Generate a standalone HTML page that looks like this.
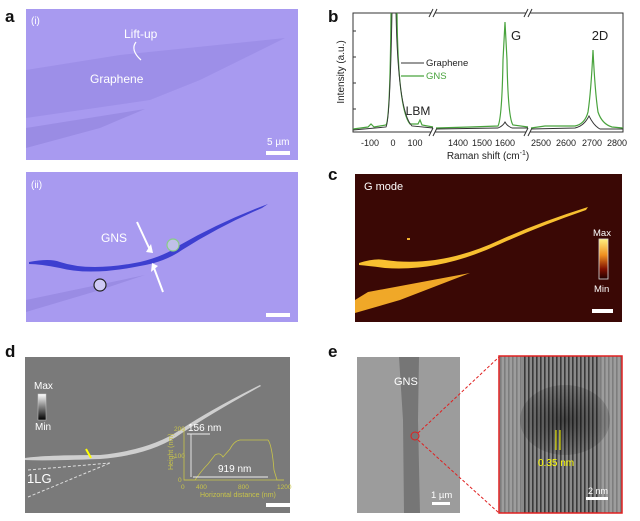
<!DOCTYPE html>
<html><head><meta charset="utf-8"><style>
body{margin:0;background:#fff;}
svg{display:block;font-family:"Liberation Sans",Arial,sans-serif;}
</style></head><body>
<svg width="640" height="521" viewBox="0 0 640 521" xmlns="http://www.w3.org/2000/svg">
<defs>
<linearGradient id="cb" x1="0" y1="0" x2="0" y2="1"><stop offset="0" stop-color="#fff080"/><stop offset="0.4" stop-color="#f09020"/><stop offset="0.75" stop-color="#801000"/><stop offset="1" stop-color="#200000"/></linearGradient>
<linearGradient id="gb" x1="0" y1="0" x2="0" y2="1"><stop offset="0" stop-color="#fff"/><stop offset="1" stop-color="#000"/></linearGradient>
<pattern id="lat" width="4" height="10" patternUnits="userSpaceOnUse"><rect width="4" height="10" fill="#8a8a8a"/><rect width="1.6" height="10" fill="#3a3a3a"/></pattern>
<radialGradient id="hr" cx="0.5" cy="0.5" r="0.7"><stop offset="0" stop-color="#000" stop-opacity="0.5"/><stop offset="1" stop-color="#000" stop-opacity="0"/></radialGradient>
</defs>
<g font-weight="bold" font-size="17" fill="#111">
<text x="5" y="22">a</text><text x="328" y="22">b</text><text x="328" y="180">c</text><text x="5" y="357">d</text><text x="328" y="357">e</text>
</g>
<!-- a(i) -->
<rect x="26" y="9" width="272" height="151" fill="#a89af0"/>
<path d="M26 70 L120 55 L285 38 L200 80 L150 100 L26 118Z" fill="#9d8fe8"/>
<path d="M26 128 L145 109 L100 128 L26 148Z" fill="#9a8ce4"/>
<g fill="#fff" font-size="12"><text x="31" y="24" font-size="10">(i)</text><text x="124" y="38">Lift-up</text><text x="90" y="83">Graphene</text><text x="267" y="145" font-size="10">5 µm</text></g>
<path d="M141 60 Q130 50 136 42" stroke="#fff" fill="none" stroke-width="1.2"/>
<rect x="266" y="151" width="24" height="4" fill="#fff"/>
<!-- a(ii) -->
<rect x="26" y="172" width="272" height="150" fill="#a89af0"/>
<path d="M26 300 L145 275 L100 290 L26 312Z" fill="#9a8ce4"/>
<path d="M29 262 Q50 258 60 262 Q90 272 140 262 Q165 256 180 245 Q220 222 268 204 L262 208 Q220 226 182 250 Q165 262 140 266 Q90 276 60 268 Q40 264 29 264Z" fill="#3d3fd0"/>
<circle cx="173" cy="245" r="6" fill="#c0c0e8" stroke="#8c8" stroke-width="1.2"/>
<circle cx="100" cy="285" r="6" fill="#cfcaf5" stroke="#222" stroke-width="1.2"/>
<g stroke="#fff" stroke-width="2"><line x1="137" y1="222" x2="150" y2="250"/><line x1="163" y1="292" x2="154" y2="268"/></g>
<path d="M146 252 L151 244 L153 253Z" fill="#fff"/><path d="M152 263 L151 272 L158 266Z" fill="#fff"/>
<g fill="#fff" font-size="12"><text x="31" y="188" font-size="10">(ii)</text><text x="101" y="242">GNS</text></g>
<rect x="266" y="313" width="24" height="4" fill="#fff"/>
<!-- b -->
<g stroke="#333" stroke-width="1" fill="none">
<rect x="353" y="13" width="270" height="119"/>
<line x1="353" y1="31" x2="356" y2="31"/><line x1="353" y1="57" x2="356" y2="57"/><line x1="353" y1="83" x2="356" y2="83"/><line x1="353" y1="109" x2="356" y2="109"/>
</g>
<g stroke="#fff" stroke-width="4"><line x1="433" y1="10" x2="433" y2="16"/><line x1="528" y1="10" x2="528" y2="16"/><line x1="433" y1="129" x2="433" y2="135"/><line x1="528" y1="129" x2="528" y2="135"/></g>
<g stroke="#333" stroke-width="1"><path d="M429 17 L433 9 M433 17 L437 9 M524 17 L528 9 M528 17 L532 9 M429 136 L433 128 M433 136 L437 128 M524 136 L528 128 M528 136 L532 128"/></g>
<path d="M353 129 L368 127 L371 124 L374 127 L386 125 Q390 120 391 13 M397 13 Q398 110 410 124 L418 124 L420 120 L422 125 L433 127 M436 128 L470 127 L498 126 Q502 118 503 60 L505 22 L507 60 Q508 118 513 125 L528 127 M531 128 L545 126 L575 126 Q585 124 588 112 Q591 92 593 50 Q595 92 598 112 Q602 124 612 127 L623 128" fill="none" stroke="#49a33d" stroke-width="1.2"/>
<path d="M353 130 L386 127 Q390 120 392 13 M396 13 Q398 112 412 126 L433 128 M436 129 L498 128 Q503 126 505 122 Q507 126 512 128 L528 128 M531 129 L575 128 Q584 126 589 116 Q594 126 600 129 L623 129" fill="none" stroke="#333" stroke-width="0.9"/>
<g font-size="9" fill="#222" text-anchor="middle">
<text x="370" y="146">-100</text><text x="393" y="146">0</text><text x="415" y="146">100</text>
<text x="458" y="146">1400</text><text x="482" y="146">1500</text><text x="505" y="146">1600</text>
<text x="541" y="146">2500</text><text x="566" y="146">2600</text><text x="592" y="146">2700</text><text x="617" y="146">2800</text>
<text x="488" y="159" font-size="10">Raman shift (cm<tspan font-size="7" dy="-4">-1</tspan><tspan dy="4">)</tspan></text>
<text x="0" y="0" font-size="10" transform="translate(344 72) rotate(-90)">Intensity (a.u.)</text>
<text x="516" y="40" font-size="13">G</text><text x="600" y="40" font-size="13">2D</text><text x="418" y="115" font-size="12">LBM</text>
</g>
<line x1="401" y1="63" x2="424" y2="63" stroke="#333"/><text x="426" y="66" font-size="9.5" fill="#222">Graphene</text>
<line x1="401" y1="76" x2="424" y2="76" stroke="#49a33d" stroke-width="1.2"/><text x="426" y="79" font-size="9.5" fill="#49a33d">GNS</text>
<!-- c -->
<rect x="355" y="174" width="267" height="148" fill="#3a0805"/>
<path d="M355 300 L368 292 L470 273 L400 300 L355 313Z" fill="#f0a828"/>
<path d="M359 263 Q375 258 385 260 Q440 268 500 240 Q540 222 588 207 L586 210 Q540 226 500 244 Q440 272 385 268 Q370 266 359 265Z" fill="#f8c030"/>
<rect x="407" y="238" width="3" height="2" fill="#f0b030"/>
<text x="364" y="190" font-size="11" fill="#fff">G mode</text>
<rect x="599" y="239" width="9" height="40" fill="url(#cb)" stroke="#ddd" stroke-width="0.8"/>
<text x="593" y="236" font-size="9.5" fill="#fff">Max</text><text x="594" y="292" font-size="9.5" fill="#fff">Min</text>
<rect x="592" y="309" width="21" height="4" fill="#fff"/>
<!-- d -->
<rect x="25" y="357" width="265" height="156" fill="#7a7a7a"/>
<path d="M25 458 Q45 455 100 455 Q150 450 180 430 Q210 410 260 385 L261 386 Q212 413 182 433 Q152 455 100 459 Q45 461 25 460Z" fill="#cfcfcf"/>
<g stroke="#ddd" stroke-dasharray="3,2" fill="none"><path d="M28 470 L110 463"/><path d="M28 497 L110 463"/></g>
<path d="M86 449 L91 458" stroke="#ff0" stroke-width="2"/>
<text x="34" y="389" font-size="10" fill="#fff">Max</text><text x="35" y="430" font-size="10" fill="#fff">Min</text>
<rect x="38" y="394" width="8" height="26" fill="url(#gb)" stroke="#ccc" stroke-width="0.5"/>
<text x="27" y="483" font-size="13" fill="#fff">1LG</text>
<g stroke="#c8c44a" fill="none" stroke-width="0.8"><path d="M184 428 L184 480 L284 480"/>
<path d="M184 480 L195 480 Q202 470 208 464 L215 455 Q220 452 223 457 L230 449 Q234 441 240 440 L268 440 Q272 445 274 470 L277 480 L284 480"/></g>
<g font-size="6.5" fill="#c8c44a"><text x="174" y="431">200</text><text x="174" y="458">100</text><text x="178" y="482">0</text>
<text x="181" y="489">0</text><text x="196" y="489">400</text><text x="238" y="489">800</text><text x="277" y="489">1200</text>
<text x="200" y="497" font-size="7">Horizontal distance (nm)</text>
<text transform="translate(173 470) rotate(-90)" font-size="7">Height (nm)</text></g>
<g stroke="#eee" stroke-width="0.9"><line x1="187" y1="434" x2="210" y2="434"/><line x1="191" y1="434" x2="191" y2="477"/><line x1="193" y1="477" x2="268" y2="477"/></g>
<text x="188" y="431" font-size="10" fill="#fff">156 nm</text><text x="218" y="472" font-size="10" fill="#fff">919 nm</text>
<rect x="266" y="503" width="24" height="4" fill="#fff"/>
<!-- e left -->
<rect x="357" y="357" width="103" height="156" fill="#9c9c9c"/>
<path d="M399 357 L419 357 L418 420 L420 513 L404 513 L403 420Z" fill="#767676"/>
<text x="394" y="385" font-size="11" fill="#fff">GNS</text>
<circle cx="415" cy="436" r="4" fill="none" stroke="#e02020"/>
<text x="431" y="498" font-size="9.5" fill="#fff">1 µm</text>
<rect x="432" y="502" width="18" height="3" fill="#fff"/>
<g stroke="#e02020" stroke-dasharray="3,2"><line x1="418" y1="433" x2="499" y2="357"/><line x1="418" y1="440" x2="499" y2="513"/></g>
<!-- e right -->
<rect x="499" y="356" width="123" height="157" fill="url(#lat)"/>
<rect x="499" y="356" width="23" height="157" fill="#aaa" opacity="0.6"/>
<rect x="600" y="356" width="22" height="157" fill="#aaa" opacity="0.6"/>
<ellipse cx="565" cy="420" rx="45" ry="35" fill="url(#hr)"/>
<rect x="499" y="356" width="123" height="157" fill="none" stroke="#e02020" stroke-width="1.5"/>
<g stroke="#ff0"><line x1="556" y1="430" x2="556" y2="450"/><line x1="560" y1="430" x2="560" y2="450"/></g>
<text x="538" y="466" font-size="10" fill="#ff0">0.35 nm</text>
<text x="588" y="494" font-size="9" fill="#fff">2 nm</text>
<rect x="586" y="497" width="22" height="3" fill="#fff"/>
</svg>
</body></html>
